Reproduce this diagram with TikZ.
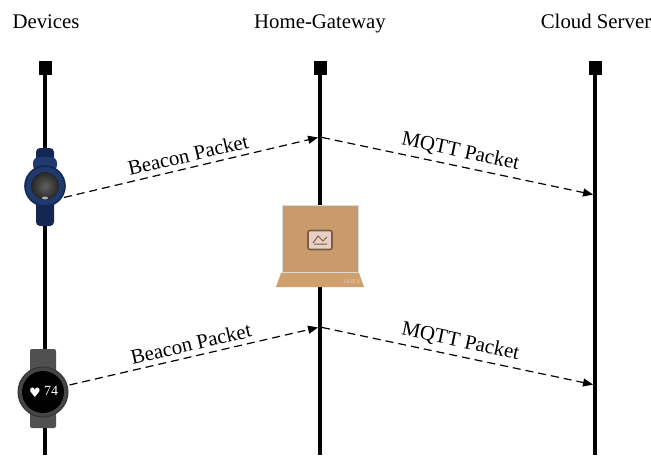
\documentclass[tikz,border=0pt]{standalone}
\usepackage{fontspec}
\setmainfont{Liberation Serif}
\newfontfamily\symfont{DejaVu Sans}
\usetikzlibrary{arrows.meta,positioning}

\definecolor{watchblue}{HTML}{1F3A6E}
\definecolor{watchdark}{HTML}{132750}
\definecolor{watchgrey}{HTML}{505050}
\definecolor{laptoptan}{HTML}{C99A6B}
\definecolor{laptopbase}{HTML}{CFA06D}
\definecolor{iconpink}{HTML}{E8D0C2}
\definecolor{icondark}{HTML}{7C5B48}

\begin{document}
\begin{tikzpicture}[
    x=0.5pt, y=-0.5pt,
    font=\fontsize{10.4}{12}\selectfont,
    head/.style={
        rectangle, fill=black, inner sep=0pt,
        minimum width=6.5pt, minimum height=7pt
    },
    title/.style={anchor=base},
    life/.style={line width=2pt, black},
    msg/.style={-{Triangle[length=5pt,width=4pt]}, dash pattern=on 4pt off 2.5pt,
        line width=0.6pt, shorten >=1pt, shorten <=1pt},
    lbl/.style={midway, above, sloped, inner sep=2.5pt},
]
\useasboundingbox (0,0) rectangle (651,455);

% Titles
\node[title] (devtitle) at (46,28) {Devices};
\node[title] (gwtitle) at (320,28) {Home-Gateway};
\node[title] (cloudtitle) at (596,28) {Cloud Server};

% Lifeline heads
\node[head] (devices) at (45,68) {};
\node[head] (gateway) at (320,68) {};
\node[head] (cloud) at (595,68) {};

% Lifelines
\coordinate (devend) at (45,455);
\coordinate (gwend) at (320,455);
\coordinate (cloudend) at (595,455);
\draw[life] (devices.center) -- (devend);
\draw[life] (gateway.center) -- (gwend);
\draw[life] (cloud.center) -- (cloudend);

% Smart band
\fill[watchdark, rounded corners=2pt] (36,148) rectangle (54,226);
\fill[watchblue, rounded corners=3pt] (33,157) rectangle (57,171);
\node[circle, fill=watchblue, draw=watchdark, line width=0.8pt,
    minimum size=20pt, inner sep=0pt] (watchA) at (45,186) {};
\shade[inner color=gray!75!black, outer color=black!85] (watchA) circle (7pt);
\fill[gray!60] (45,198) ellipse (1.5pt and 0.7pt);

% Smart watch
\fill[watchgrey, rounded corners=1pt] (30,349) rectangle (56,428);
\node[circle, fill=gray!55!black, draw=gray!40!black, line width=0.5pt,
    minimum size=25pt, inner sep=0pt] (watchB) at (43,392) {};
\fill[black] (watchB) circle (10.5pt);
\node[text=white, inner sep=0pt, font=\symfont\fontsize{6.5}{6.5}\selectfont] (heart) at (35,393) {♥};
\node[text=white, inner sep=0pt, font=\fontsize{7}{7}\selectfont] (bpm) at (51,391) {74};

% Home gateway
\node[rectangle, fill=laptoptan, draw=gray!30, line width=0.5pt,
    minimum width=38pt, minimum height=33.5pt, inner sep=0pt] (laptop) at (320,238.5) {};
\fill[laptopbase] (281,273) -- (359,273) -- (364,287) -- (276,287) -- cycle;
\node[text=laptoptan!55, inner sep=0pt, font=\sffamily\fontsize{3}{3}\selectfont] (brand) at (352,281) {ADER};
\node[rectangle, rounded corners=1pt, fill=iconpink, draw=icondark, line width=0.8pt,
    minimum width=12pt, minimum height=9.5pt, inner sep=0pt] (icon) at (320,240) {};
\draw[icondark, line width=0.5pt] (313,243) -- (318,236) -- (323,241) -- (327,237)
    (314,244) -- (327,244);

% Messages
\coordinate (beaconA) at (320,137);
\coordinate (mqttA) at (595,195);
\coordinate (beaconB) at (320,327);
\coordinate (mqttB) at (595,385);

\draw[msg] (watchA.-35) -- (beaconA) node[lbl] {Beacon Packet};
\draw[msg] (beaconA) -- (mqttA) node[lbl] {MQTT Packet};
\draw[msg] (watchB.15) -- (beaconB) node[lbl] {Beacon Packet};
\draw[msg] (beaconB) -- (mqttB) node[lbl] {MQTT Packet};

\end{tikzpicture}
\end{document}
